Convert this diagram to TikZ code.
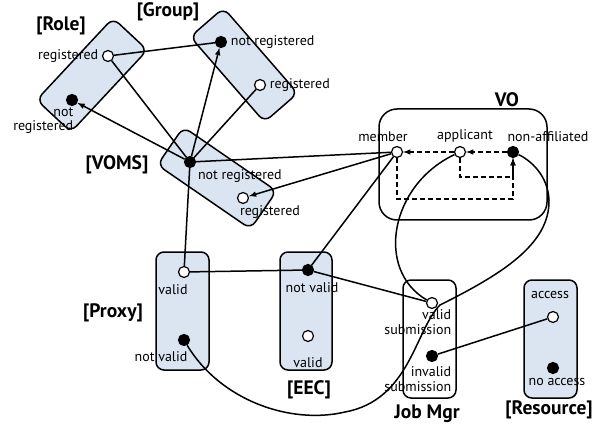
\documentclass[tikz,border=0pt]{standalone}
\usepackage{fontspec}
\setmainfont{PT Sans}
\definecolor{boxblue}{RGB}{219,229,241}

\begin{document}
\begin{tikzpicture}[x=1pt, y=-1pt, >=latex, line width=1.5pt,
  every node/.style={font=\fontsize{14}{14.5}\selectfont, inner sep=3pt},
  box/.style={draw, rounded corners=8pt, fill=boxblue, inner sep=0pt},
  wbox/.style={draw, rounded corners=8pt, fill=white, inner sep=0pt},
  bdot/.style={circle, draw, fill=black, inner sep=0pt, minimum size=11pt, line width=1.2pt},
  wdot/.style={circle, draw, fill=white, inner sep=0pt, minimum size=11pt, line width=1.2pt},
  title/.style={font=\fontsize{19.5}{21}\selectfont\bfseries}]
\useasboundingbox (0,0) rectangle (603,425);

% boxes
\node[box, rotate=47, minimum width=112pt, minimum height=47pt] (role) at (92,75) {};
\node[box, rotate=-49, minimum width=113pt, minimum height=44pt] (group) at (244,65) {};
\node[box, rotate=-34.5, minimum width=113pt, minimum height=46pt] (voms) at (217,178) {};
\node[wbox, rounded corners=18pt, minimum width=168pt, minimum height=111pt] (vo) at (463,164.5) {};
\node[box, minimum width=53pt, minimum height=118pt] (proxy) at (182.5,311) {};
\node[box, minimum width=52pt, minimum height=118pt] (eec) at (306,311) {};
\node[wbox, minimum width=53pt, minimum height=118pt] (jobmgr) at (429.5,339) {};
\node[box, minimum width=53pt, minimum height=118pt] (resource) at (550.5,339) {};

\node[title] (roletitle) at (61,26) {[Role]};
\node[title] (grouptitle) at (168,12) {[Group]};
\node[title] (vomstitle) at (117,165) {[VOMS]};
\node[title] (votitle) at (507,100) {VO};
\node[title] (proxytitle) at (113,313) {[Proxy]};
\node[title] (eectitle) at (309,390) {[EEC]};
\node[title] (jobmgrtitle) at (427,414) {Job Mgr};
\node[title] (resourcetitle) at (549,410) {[Resource]};

% states
\node[wdot, label=left:registered] (rolereg) at (108,56) {};
\node[bdot] (rolenot) at (72,100) {};
\node[align=right, anchor=north east] (rolenottext) at (77,104) {not\\registered};
\node[bdot, label=right:not registered] (groupnot) at (221,42) {};
\node[wdot, label=right:registered] (groupreg) at (260,85) {};
\node[bdot, label=below right:not registered] (vomsnot) at (190,162) {};
\node[wdot, label={[xshift=27pt, label distance=-2pt]below:registered}] (vomsreg) at (243,198) {};

\node[wdot, label={[xshift=-14pt]above:member}] (member) at (397,152) {};
\node[wdot, label={[xshift=5pt]above:applicant}] (applicant) at (460,152) {};
\node[bdot, label={[xshift=35pt]above:non-affiliated}] (nonaff) at (513,152) {};

\node[wdot, label={[xshift=-11pt, label distance=3pt]below:valid}] (pvalid) at (184,272) {};
\node[bdot, label={[xshift=-23pt, label distance=2pt]below:not valid}] (pnot) at (184,340) {};
\node[bdot, label={[xshift=4pt, label distance=3pt]below:not valid}] (enot) at (308,270) {};
\node[wdot, label={[label distance=12pt]below:valid}] (evalid) at (308,336) {};

\node[wdot] (jvalid) at (432,303) {};
\node[align=right, anchor=north east] (jvalidtext) at (455,306) {valid\\submission};
\node[bdot] (jinvalid) at (432,356) {};
\node[align=right, anchor=north east] (jinvalidtext) at (455,363) {invalid\\submission};
\node[wdot, label={[xshift=-3pt, label distance=8pt]above:access}] (access) at (553,317) {};
\node[bdot, label={[xshift=4pt, label distance=0pt]below:no access}] (noaccess) at (553,368) {};

% transitions
\draw (rolereg) -- (groupnot);
\draw (rolereg) -- (vomsnot);
\draw[->] (vomsnot) -- (rolenot);
\draw[->] (vomsnot) -- (groupnot);
\draw (vomsnot) -- (groupreg);
\draw (vomsnot) -- (member);
\draw (vomsnot) -- (pvalid);
\draw[->] (member) -- (vomsreg);
\draw (member) -- (enot);
\draw (pvalid) -- (enot);
\draw (enot) -- (jvalid);
\draw (jinvalid) -- (access);
\draw[dash pattern=on 5pt off 3pt, ->] (applicant) -- (member);
\draw[dash pattern=on 5pt off 3pt, ->] (nonaff) -- (applicant);
\draw[dash pattern=on 5pt off 3pt, ->] (member) -- ++(0,47) -| (nonaff);
\draw[dash pattern=on 5pt off 3pt, ->] (applicant) -- ++(0,25) -| (nonaff);
\draw (applicant) .. controls (390,185) and (375,270) .. (jvalid);
\draw (pnot) .. controls (220,400) and (290,425) .. (345,412)
  .. controls (410,400) and (415,330) .. (440,305)
  .. controls (500,275) and (550,245) .. (549,200)
  .. controls (548,175) and (530,160) .. (nonaff);
\end{tikzpicture}
\end{document}
